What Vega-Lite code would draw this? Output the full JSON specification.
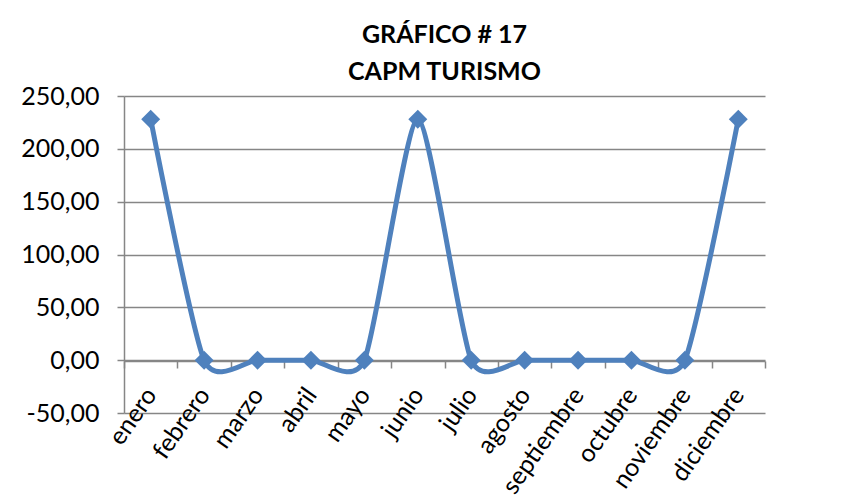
{
  "$schema": "https://vega.github.io/schema/vega-lite/v6.json",
  "width": 641,
  "height": 317,
  "autosize": {"type": "none"},
  "padding": {"left": 124, "top": 96, "right": 94, "bottom": 90},
  "background": "white",
  "title": {
    "text": ["GRÁFICO # 17", "CAPM TURISMO"],
    "font": "Lato",
    "fontSize": 25,
    "fontWeight": "bold",
    "color": "#000000",
    "anchor": "middle",
    "offset": -1,
    "lineHeight": 37
  },
  "config": {"view": {"stroke": null}},
  "data": {
    "values": [
      {"mes": "enero", "valor": 228},
      {"mes": "febrero", "valor": 0},
      {"mes": "marzo", "valor": 0},
      {"mes": "abril", "valor": 0},
      {"mes": "mayo", "valor": 0},
      {"mes": "junio", "valor": 228},
      {"mes": "julio", "valor": 0},
      {"mes": "agosto", "valor": 0},
      {"mes": "septiembre", "valor": 0},
      {"mes": "octubre", "valor": 0},
      {"mes": "noviembre", "valor": 0},
      {"mes": "diciembre", "valor": 228}
    ]
  },
  "encoding": {
    "x": {
      "field": "mes",
      "type": "nominal",
      "sort": ["enero", "febrero", "marzo", "abril", "mayo", "junio", "julio", "agosto", "septiembre", "octubre", "noviembre", "diciembre"],
      "scale": {"type": "band", "paddingInner": 0, "paddingOuter": 0},
      "axis": {
        "title": null,
        "orient": "bottom",
        "offset": -52,
        "domainColor": "#868686",
        "domainWidth": 1.5,
        "tickColor": "#868686",
        "tickWidth": 1.5,
        "tickSize": 7,
        "tickBand": "extent",
        "labelAngle": -55,
        "labelAlign": "right",
        "labelBaseline": "middle",
        "labelFont": "Lato",
        "labelFontSize": 25,
        "labelColor": "#000000",
        "labelPadding": 22,
        "grid": false
      }
    },
    "y": {
      "field": "valor",
      "type": "quantitative",
      "scale": {"domain": [-50, 250], "nice": false, "zero": false},
      "axis": {
        "title": null,
        "values": [-50, 0, 50, 100, 150, 200, 250],
        "labelExpr": "replace(replace(format(datum.value, '.2f'), '.', ','), '\u2212', '-')",
        "domainColor": "#868686",
        "domainWidth": 1.5,
        "tickColor": "#868686",
        "tickWidth": 1.5,
        "tickSize": 7,
        "grid": true,
        "gridColor": "#868686",
        "gridWidth": 1.3,
        "labelFont": "Lato",
        "labelFontSize": 25,
        "labelColor": "#000000",
        "labelPadding": 18
      }
    }
  },
  "layer": [
    {"mark": {"type": "line", "interpolate": "cardinal", "tension": 0.35, "color": "#4F81BD", "strokeWidth": 5}},
    {"mark": {"type": "point", "shape": "diamond", "filled": true, "size": 360, "color": "#4F81BD", "opacity": 1}}
  ]
}
